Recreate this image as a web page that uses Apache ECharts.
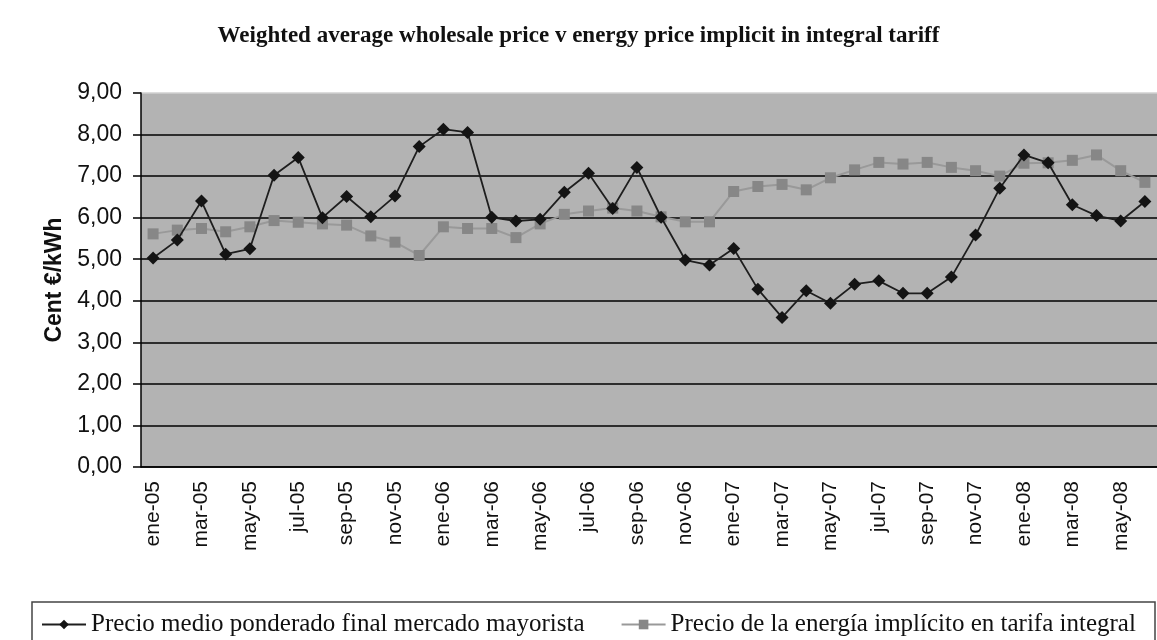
<!DOCTYPE html>
<html>
<head>
<meta charset="utf-8">
<script src="https://cdn.jsdelivr.net/npm/echarts@6/dist/echarts.min.js"></script>
<style>
  html, body { margin: 0; padding: 0; background: #fff; }
  #chart { width: 1157px; height: 640px; }
</style>
</head>
<body>
<div id="chart"></div>
<script>
const months = [
  'ene-05','feb-05','mar-05','abr-05','may-05','jun-05','jul-05','ago-05','sep-05','oct-05','nov-05','dic-05',
  'ene-06','feb-06','mar-06','abr-06','may-06','jun-06','jul-06','ago-06','sep-06','oct-06','nov-06','dic-06',
  'ene-07','feb-07','mar-07','abr-07','may-07','jun-07','jul-07','ago-07','sep-07','oct-07','nov-07','dic-07',
  'ene-08','feb-08','mar-08','abr-08','may-08','jun-08'
];

const wholesale = [
  5.03, 5.46, 6.40, 5.12, 5.25, 7.02, 7.45, 6.00, 6.51, 6.02, 6.52, 7.71,
  8.13, 8.05, 6.01, 5.92, 5.96, 6.61, 7.07, 6.22, 7.21, 6.01, 4.98, 4.86,
  5.26, 4.28, 3.60, 4.24, 3.94, 4.40, 4.48, 4.18, 4.18, 4.57, 5.58, 6.71,
  7.51, 7.32, 6.31, 6.05, 5.92, 6.39
];

const tariff = [
  5.61, 5.70, 5.74, 5.66, 5.78, 5.93, 5.89, 5.85, 5.82, 5.56, 5.41, 5.09,
  5.78, 5.74, 5.74, 5.52, 5.85, 6.08, 6.16, 6.23, 6.16, 6.02, 5.90, 5.90,
  6.63, 6.75, 6.80, 6.67, 6.96, 7.15, 7.33, 7.29, 7.33, 7.21, 7.13, 7.00,
  7.31, 7.32, 7.38, 7.51, 7.13, 6.85
];

const seriesNames = [
  'Precio medio ponderado final mercado mayorista',
  'Precio de la energía implícito en tarifa integral'
];

const chart = echarts.init(document.getElementById('chart'));

const option = {
  animation: false,
  backgroundColor: '#fff',
  title: {
    text: 'Weighted average wholesale price v energy price implicit in integral tariff',
    left: 'center',
    top: 20,
    textStyle: {
      fontFamily: 'Liberation Serif',
      fontWeight: 'bold',
      fontSize: 23,
      color: '#111'
    }
  },
  graphic: [{
    type: 'rect',
    shape: { x: 32, y: 602, width: 1123, height: 60 },
    style: { fill: 'none', stroke: '#444', lineWidth: 1.5 },
    z: 0
  }],
  legend: {
    left: 36,
    top: 607,
    itemWidth: 44,
    itemHeight: 12,
    itemGap: 36,
    textStyle: {
      fontFamily: 'Liberation Serif',
      fontSize: 25,
      color: '#111'
    },
    data: seriesNames
  },
  grid: {
    left: 141,
    right: -13,
    top: 93,
    bottom: 173,
    show: true,
    backgroundColor: '#b3b3b3',
    borderWidth: 0
  },
  xAxis: {
    type: 'category',
    data: months,
    boundaryGap: true,
    axisLine: { lineStyle: { color: '#000', width: 1.5 } },
    axisTick: { interval: 1, length: 10, lineStyle: { color: '#000', width: 1.5 } },
    axisLabel: {
      interval: 1,
      rotate: 90,
      margin: 14,
      fontFamily: 'Liberation Sans',
      fontSize: 21,
      color: '#111'
    }
  },
  yAxis: {
    type: 'value',
    min: 0,
    max: 9,
    interval: 1,
    name: 'Cent €/kWh',
    nameLocation: 'middle',
    nameGap: 74,
    nameTextStyle: {
      fontFamily: 'Liberation Sans',
      fontWeight: 'bold',
      fontSize: 23,
      color: '#111'
    },
    axisLine: { show: true, lineStyle: { color: '#000', width: 1.5 } },
    axisTick: { show: true, length: 8, lineStyle: { color: '#000', width: 1.5 } },
    axisLabel: {
      margin: 19,
      fontFamily: 'Liberation Sans',
      fontSize: 23,
      color: '#111',
      formatter: v => v.toFixed(2).replace('.', ',')
    },
    splitLine: {
      show: true,
      lineStyle: {
        color: ['#000','#000','#000','#000','#000','#000','#000','#000','#000','#d0d0d0'],
        width: 1.5
      }
    }
  },
  series: [
    {
      name: seriesNames[0],
      type: 'line',
      data: wholesale,
      symbol: 'diamond',
      symbolSize: 13,
      itemStyle: { color: '#141414' },
      lineStyle: { color: '#1e1e1e', width: 1.8 },
      z: 3
    },
    {
      name: seriesNames[1],
      type: 'line',
      data: tariff,
      symbol: 'rect',
      symbolSize: 11,
      itemStyle: { color: '#878787' },
      lineStyle: { color: '#999', width: 2 },
      z: 2
    }
  ]
};

chart.setOption(option);
</script>
</body>
</html>
